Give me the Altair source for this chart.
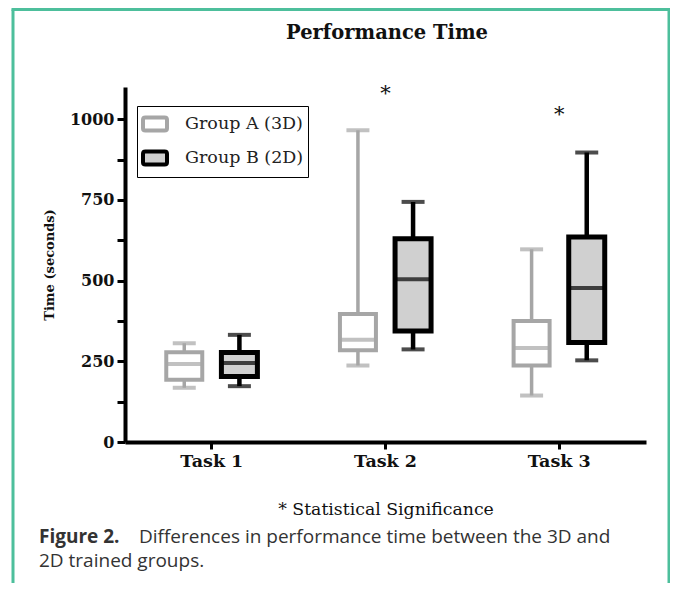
import altair as alt
import pandas as pd

# ---------------- data ----------------
tasks = ["Task 1", "Task 2", "Task 3"]
groups = ["Group A (3D)", "Group B (2D)"]

a_low = [168, 237, 144]
a_q1 = [193, 284, 237]
a_med = [242, 317, 291]
a_q3 = [278, 397, 375]
a_high = [306, 966, 597]

b_low = [173, 287, 253]
b_q1 = [203, 344, 308]
b_med = [245, 504, 477]
b_q3 = [277, 630, 635]
b_high = [332, 744, 897]

sig_tasks = ["Task 2", "Task 3"]
sig_pos = [1091, 1027]

y_ticks = [0, 125, 250, 375, 500, 625, 750, 875, 1000]

title_text = ["Performance Time"]
note_text = ["* Statistical Significance"]
caption_bold = ["Figure 2."]
caption_line1 = ["Differences in performance time between the 3D and"]
caption_line2 = ["2D trained groups."]

# ---------------- tables ----------------
rows = []
for i, t in enumerate(tasks):
    rows.append(dict(task=t, group=groups[0], low=a_low[i], q1=a_q1[i],
                     med=a_med[i], q3=a_q3[i], high=a_high[i]))
    rows.append(dict(task=t, group=groups[1], low=b_low[i], q1=b_q1[i],
                     med=b_med[i], q3=b_q3[i], high=b_high[i]))
df = pd.DataFrame(rows)
sig_df = pd.DataFrame({"task": sig_tasks, "y": sig_pos})
one = pd.DataFrame({"k": [0]})

GRAY = "#a6a6a6"
BLACK = "#000000"
FILL_B = "#d0d0d0"
TEAL = "#4dbf9c"
SERIF = "DejaVu Serif"
SANS = "Open Sans"

W, H = 521, 355

xscale = alt.Scale(domain=tasks, paddingInner=0.365, paddingOuter=0.1825)
xaxis = alt.Axis(title=None, labelAngle=0, labelFont=SERIF, labelFontSize=17.5,
                 labelFontWeight="bold", labelColor="#111", labelPadding=3,
                 tickSize=7, tickWidth=3, tickColor="black",
                 domainWidth=4, domainColor="black", grid=False)
yscale = alt.Scale(domain=[0, 1100], nice=False, zero=True)
yaxis = alt.Axis(title="Time (seconds)", values=y_ticks, format="d",
                 labelExpr="datum.value % 250 == 0 ? datum.label : ''",
                 labelFont=SERIF, labelFontSize=16, labelFontWeight="bold",
                 labelColor="#111", labelPadding=3,
                 tickSize=8, tickWidth=3, tickColor="black",
                 domainWidth=4, domainColor="black", grid=False,
                 titleFont=SERIF, titleFontSize=13, titleFontWeight="bold",
                 titleColor="#111", titlePadding=13)

off = alt.XOffset("group:N", scale=alt.Scale(domain=groups, paddingInner=0, paddingOuter=0))
X = alt.X("task:N", scale=xscale, axis=xaxis)
Y_low = alt.Y("low:Q", scale=yscale, axis=yaxis)

legend = alt.Legend(
    title=None, orient="none", legendX=12, legendY=19,
    strokeColor="black", fillColor="white", padding=4,
    symbolType="M-0.8,-0.55H0.8Q1,-0.55 1,-0.35V0.35Q1,0.55 0.8,0.55H-0.8Q-1,0.55 -1,0.35V-0.35Q-1,-0.55 -0.8,-0.55Z",
    symbolSize=576, symbolStrokeWidth=4,
    labelFont=SERIF, labelFontSize=17.5, labelColor="#222",
    rowPadding=4, labelOffset=16,
)
fill_enc = alt.Fill("group:N", scale=alt.Scale(domain=groups, range=["white", FILL_B]), legend=legend)
stroke_enc = alt.Stroke("group:N", scale=alt.Scale(domain=groups, range=[GRAY, BLACK]), legend=legend)

layers = []
for g, col, sw_line, sw_box in [(groups[0], GRAY, 3.5, 4), (groups[1], BLACK, 4.5, 5)]:
    base = alt.Chart(df).transform_filter(alt.datum.group == g)
    layers.append(base.mark_rule(color=col, strokeWidth=sw_line).encode(
        x=X, xOffset=off, y=Y_low, y2="high:Q"))
    layers.append(base.mark_tick(size=23, thickness=4, color=col).encode(
        x=X, xOffset=off, y="low:Q"))
    layers.append(base.mark_tick(size=23, thickness=4, color=col).encode(
        x=X, xOffset=off, y="high:Q"))
    layers.append(base.mark_bar(size=36, strokeWidth=sw_box).encode(
        x=X, xOffset=off, y="q1:Q", y2="q3:Q", fill=fill_enc, stroke=stroke_enc))
    layers.append(base.mark_tick(size=36, thickness=4, color=col).encode(
        x=X, xOffset=off, y="med:Q"))

stars = alt.Chart(sig_df).mark_text(text="*", font=SERIF, fontSize=21, color="#111", dy=4).encode(
    x=alt.X("task:N", scale=xscale, axis=xaxis), y=alt.Y("y:Q", scale=yscale)
)


def label(data, x, y, size, weight="normal", font=SERIF, align="center", color="#111"):
    return alt.Chart(pd.DataFrame({"t": data})).mark_text(
        font=font, fontSize=size, fontWeight=weight, align=align, baseline="middle", color=color
    ).encode(text="t:N", x=alt.value(x), y=alt.value(y))


title = label(title_text, 262, -54, 19.5, "bold")
note = label(note_text, 261, 423, 17.3)
cap1b = label(caption_bold, -86, 449.5, 19, "bold", SANS, "left", "#333")
cap1 = label(caption_line1, 14, 449.5, 19, "normal", SANS, "left", "#333")
cap2 = label(caption_line2, -86, 473.5, 19, "normal", SANS, "left", "#333")

b_left = alt.Chart(one).mark_rule(color=TEAL, strokeWidth=3).encode(
    x=alt.value(-112), y=alt.value(-77.5), y2=alt.value(520))
b_top = alt.Chart(one).mark_rule(color=TEAL, strokeWidth=3).encode(
    x=alt.value(-113.5), x2=alt.value(545.5), y=alt.value(-77.5))
b_right = alt.Chart(one).mark_rule(color=TEAL, strokeWidth=3).encode(
    x=alt.value(544), y=alt.value(-77.5), y2=alt.value(520))

chart = alt.layer(
    *layers, stars, title, note, cap1b, cap1, cap2, b_left, b_top, b_right,
).properties(
    width=W, height=H,
    autosize=alt.AutoSizeParams(type="none"),
    padding={"left": 117, "top": 79, "right": 24, "bottom": 141},
    background="white",
).configure_view(stroke=None)

chart.save("out.html", embed_options={"renderer": "svg", "actions": False})
